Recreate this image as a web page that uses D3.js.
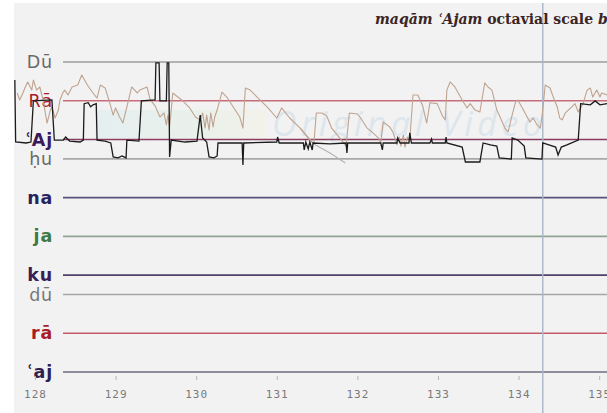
<!DOCTYPE html>
<html>
<head>
<meta charset="utf-8">
<script src="https://cdnjs.cloudflare.com/ajax/libs/d3/7.8.5/d3.min.js"></script>
<style>
  html, body { margin: 0; padding: 0; background: #fff; }
  svg { display: block; }
</style>
</head>
<body>
<div id="chart"></div>
<script>
// Reference degrees of the scale, in cents above the low ʿajam
const noteNames = ["ʿaj", "rā", "dū", "ku", "ja", "na", "ḥu", "ʿAj", "Rā", "Dū"];
const noteCents = [0, 200, 400, 500, 700, 900, 1100, 1200, 1400, 1600];

// x axis (seconds)
const tickSeconds = [128, 129, 130, 131, 132, 133, 134, 135];
const cursorTime = 134.30;

// black pitch track
const voiceTime = [127.75, 127.76, 127.89, 127.95, 127.98, 128.21, 128.24, 128.35, 128.38, 128.43,
  128.56, 128.60, 128.61, 128.66, 128.69, 128.72, 128.76, 128.77, 128.87, 128.94,
  128.97, 129.03, 129.08, 129.13, 129.14, 129.29, 129.32, 129.49, 129.50, 129.54,
  129.55, 129.63, 129.64, 129.66, 129.67, 129.69, 129.86, 130.01, 130.05, 130.08,
  130.13, 130.16, 130.22, 130.26, 130.27, 130.57, 130.58, 130.59, 131.00, 131.01,
  131.03, 131.33, 131.34, 131.36, 131.39, 131.41, 131.44, 131.45, 131.66, 131.86,
  131.87, 131.88, 132.29, 132.31, 132.32, 132.49, 132.50, 132.53, 132.64, 132.65,
  132.67, 132.90, 132.92, 132.93, 133.09, 133.10, 133.11, 133.30, 133.34, 133.52,
  133.56, 133.65, 133.73, 133.76, 133.91, 133.92, 133.99, 134.07, 134.09, 134.29,
  134.30, 134.46, 134.49, 134.53, 134.60, 134.74, 134.77, 134.89, 134.95, 135.01, 135.10];
const voiceCents = [1507, 1187, 1182, 1187, 1399, 1404, 1197, 1197, 1213, 1192,
  1187, 1197, 1385, 1390, 1369, 1379, 1385, 1197, 1192, 1182,
  1110, 1105, 1115, 1105, 1197, 1192, 1399, 1404, 1595, 1595,
  1399, 1399, 1595, 1595, 1110, 1197, 1187, 1192, 1326, 1208,
  1187, 1110, 1105, 1115, 1182, 1182, 1068, 1182, 1187, 1213,
  1182, 1182, 1146, 1187, 1151, 1187, 1146, 1182, 1177, 1182,
  1130, 1182, 1182, 1146, 1182, 1182, 1208, 1182, 1182, 1234,
  1182, 1182, 1203, 1182, 1182, 1213, 1182, 1161, 1084, 1084,
  1182, 1172, 1166, 1105, 1099, 1208, 1197, 1166, 1105, 1099,
  1182, 1161, 1120, 1161, 1172, 1197, 1385, 1379, 1399, 1379, 1385];

// brown pitch track
const melodyTime = [127.78, 127.81, 127.85, 127.88, 127.91, 127.96, 127.98, 128.02, 128.06, 128.10,
  128.15, 128.19, 128.21, 128.25, 128.29, 128.31, 128.35, 128.37, 128.41, 128.46,
  128.53, 128.58, 128.65, 128.72, 128.77, 128.81, 128.87, 128.93, 128.97, 129.00,
  129.05, 129.09, 129.14, 129.20, 129.27, 129.30, 129.39, 129.43, 129.49, 129.55,
  129.60, 129.63, 129.65, 129.67, 129.71, 129.82, 129.92, 129.99, 130.05, 130.08,
  130.11, 130.13, 130.16, 130.18, 130.21, 130.23, 130.26, 130.32, 130.38, 130.46,
  130.54, 130.58, 130.61, 130.67, 130.79, 130.88, 131.00, 131.06, 131.16, 131.29,
  131.41, 131.46, 131.49, 131.56, 131.62, 131.68, 131.78, 131.86, 131.90, 132.00,
  132.04, 132.12, 132.18, 132.26, 132.29, 132.32, 132.40, 132.44, 132.49, 132.52,
  132.54, 132.57, 132.59, 132.62, 132.65, 132.69, 132.75, 132.81, 132.86, 132.90,
  132.99, 133.05, 133.09, 133.11, 133.15, 133.21, 133.30, 133.36, 133.40, 133.46,
  133.52, 133.58, 133.62, 133.67, 133.73, 133.77, 133.83, 133.87, 133.92, 133.96,
  133.99, 134.04, 134.08, 134.14, 134.18, 134.23, 134.27, 134.30, 134.33, 134.39,
  134.43, 134.48, 134.51, 134.54, 134.58, 134.66, 134.70, 134.74, 134.80, 134.85,
  134.89, 134.92, 134.97, 135.01, 135.03, 135.10];
const melodyCents = [1440, 1404, 1440, 1471, 1497, 1455, 1507, 1455, 1471, 1404,
  1285, 1352, 1368, 1311, 1352, 1404, 1445, 1455, 1430, 1471,
  1481, 1533, 1481, 1440, 1414, 1481, 1466, 1385, 1326, 1363,
  1316, 1285, 1368, 1471, 1440, 1455, 1471, 1404, 1374, 1316,
  1337, 1275, 1326, 1265, 1440, 1404, 1363, 1316, 1301, 1337,
  1259, 1326, 1249, 1337, 1265, 1316, 1352, 1445, 1419, 1368,
  1316, 1259, 1466, 1455, 1404, 1368, 1311, 1363, 1311, 1259,
  1197, 1177, 1337, 1337, 1321, 1259, 1208, 1166, 1337, 1332,
  1311, 1259, 1239, 1208, 1182, 1290, 1265, 1239, 1172, 1213,
  1166, 1223, 1161, 1213, 1197, 1430, 1430, 1374, 1285, 1390,
  1385, 1326, 1301, 1455, 1497, 1471, 1404, 1363, 1385, 1352,
  1342, 1492, 1471, 1455, 1352, 1316, 1259, 1239, 1326, 1390,
  1404, 1368, 1337, 1290, 1311, 1275, 1259, 1352, 1481, 1466,
  1419, 1368, 1311, 1301, 1337, 1368, 1385, 1342, 1385, 1455,
  1466, 1419, 1455, 1419, 1440, 1430];

// faint grey track that keeps falling under the brown one
const echoTime = [131.29, 131.46, 131.66, 131.85];
const echoCents = [1259, 1177, 1130, 1079];

const W = 607, H = 413;

// colours of the note labels and their guide lines
const noteStyle = {
  "ʿaj": { text: "#2e2150", line: "#6f6d80", bold: true },
  "rā":  { text: "#a81c2a", line: "#c45a68", bold: true },
  "dū":  { text: "#777",    line: "#a6a6a6", bold: false },
  "ku":  { text: "#3a1f55", line: "#4f4169", bold: true },
  "ja":  { text: "#3d7a45", line: "#8fa592", bold: true },
  "na":  { text: "#28235e", line: "#57537a", bold: true },
  "ḥu":  { text: "#6a6a6a", line: "#a8a8a8", bold: false },
  "ʿAj": { text: "#3a1a5c", line: "#8a3c5e", bold: true },
  "Rā":  { text: "#a81c2a", line: "#c86c7c", bold: false },
  "Dū":  { text: "#6a6a6a", line: "#9c9c9c", bold: false }
};

const svg = d3.select("#chart").append("svg")
  .attr("width", W)
  .attr("height", H);

// grey canvas of the viewer
svg.append("rect")
  .attr("x", 14).attr("y", 3)
  .attr("width", W - 14).attr("height", H - 3)
  .attr("fill", "#f2f2f2");

const x = d3.scaleLinear().domain([127.752, 135.097]).range([15, W]);
const y = d3.scaleLinear().domain([0, 1600]).range([372, 62]);

// faint watermark behind the tracks
const defs = svg.append("defs");
const grad = defs.append("linearGradient").attr("id", "wm");
grad.append("stop").attr("offset", "0%").attr("stop-color", "#a8e0ea");
grad.append("stop").attr("offset", "60%").attr("stop-color", "#c2eac8");
grad.append("stop").attr("offset", "100%").attr("stop-color", "#f3f1c8");
svg.append("rect")
  .attr("x", 95).attr("y", 110).attr("width", 170).attr("height", 28)
  .attr("fill", "url(#wm)").attr("opacity", 0.18);
svg.append("text")
  .attr("x", 272).attr("y", 136)
  .attr("font-family", "Open Sans, sans-serif")
  .attr("font-style", "italic")
  .attr("font-size", 34)
  .attr("textLength", 270)
  .attr("lengthAdjust", "spacing")
  .attr("fill", "#dde6ec")
  .text("Original Video");

// guide lines for the scale degrees
const notes = noteNames.map((n, i) => ({ name: n, cents: noteCents[i] }));

svg.append("g").selectAll("line")
  .data(notes)
  .enter().append("line")
    .attr("x1", 63).attr("x2", W)
    .attr("y1", d => y(d.cents)).attr("y2", d => y(d.cents))
    .attr("stroke", d => noteStyle[d.name].line)
    .attr("stroke-width", 1.6);

svg.append("g").selectAll("text")
  .data(notes)
  .enter().append("text")
    .attr("x", 53)
    .attr("y", d => y(d.cents) + 6)
    .attr("text-anchor", "end")
    .attr("font-family", "DejaVu Sans, sans-serif")
    .attr("font-size", 17.5)
    .attr("letter-spacing", 0.8)
    .attr("font-weight", d => noteStyle[d.name].bold ? "bold" : "normal")
    .attr("fill", d => noteStyle[d.name].text)
    .text(d => d.name);

// time axis
const axis = d3.axisBottom(x)
  .tickValues(tickSeconds)
  .tickSize(4)
  .tickPadding(10)
  .tickFormat(d3.format("d"));

const gx = svg.append("g")
  .attr("transform", "translate(0," + (y(0) + 4) + ")")
  .call(axis);
gx.select(".domain").remove();
gx.selectAll(".tick line").attr("stroke", "#b5b5b5");
gx.selectAll(".tick text")
  .attr("fill", "#7a7a7a")
  .attr("font-family", "DejaVu Sans Mono, monospace")
  .attr("font-size", 11)
  .attr("letter-spacing", 1);

// play cursor
svg.append("line")
  .attr("x1", x(cursorTime)).attr("x2", x(cursorTime))
  .attr("y1", 3).attr("y2", H)
  .attr("stroke", "#a9b6c8")
  .attr("stroke-width", 1.4);

// pitch tracks
const path = d3.line()
  .x(d => x(d[0]))
  .y(d => y(d[1]));

const melody = melodyTime.map((t, i) => [t, melodyCents[i]]);
const echo = echoTime.map((t, i) => [t, echoCents[i]]);
const voice = voiceTime.map((t, i) => [t, voiceCents[i]]);

svg.append("path")
  .datum(echo)
  .attr("d", path)
  .attr("fill", "none")
  .attr("stroke", "#b4b4b4")
  .attr("stroke-width", 1.1);

svg.append("path")
  .datum(melody)
  .attr("d", path)
  .attr("fill", "none")
  .attr("stroke", "#bfa390")
  .attr("stroke-width", 1.1)
  .attr("stroke-linejoin", "round");

svg.append("path")
  .datum(voice)
  .attr("d", path)
  .attr("fill", "none")
  .attr("stroke", "#1b1b1b")
  .attr("stroke-width", 1.3);

// title
const title = svg.append("text")
  .attr("x", 375).attr("y", 24)
  .attr("font-family", "DejaVu Serif, serif")
  .attr("font-weight", "bold")
  .attr("font-size", 14)
  .attr("fill", "#3a2424");
title.append("tspan").attr("font-style", "italic").text("maqām ʿAjam");
title.append("tspan").text(" octavial scale ");
title.append("tspan").attr("font-style", "italic").text("b");
title.append("tspan").attr("font-size", 8).attr("dy", -6).text("♭");
</script>
</body>
</html>
